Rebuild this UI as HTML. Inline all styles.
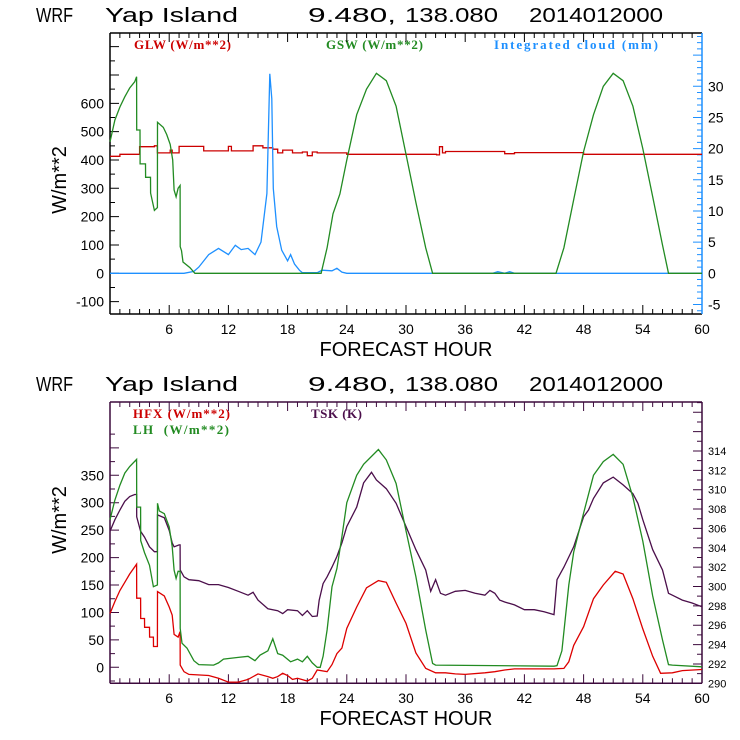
<!DOCTYPE html>
<html><head><meta charset="utf-8"><style>
html,body{margin:0;padding:0;background:#fff;}
svg{display:block;font-family:"Liberation Sans",sans-serif;}
.t{font-size:20px;fill:#000;}
.lg{font-family:"Liberation Serif",serif;font-size:13px;font-weight:bold;}
</style></head><body>
<svg id="s" width="740" height="740" viewBox="0 0 740 740" xmlns="http://www.w3.org/2000/svg">
<g>
<text class="t" x="36" y="22" textLength="37" lengthAdjust="spacingAndGlyphs">WRF</text>
<text class="t" x="105" y="22" textLength="133" lengthAdjust="spacingAndGlyphs">Yap Island</text>
<text class="t" x="308" y="22" textLength="88" lengthAdjust="spacingAndGlyphs">9.480,</text>
<text class="t" x="405" y="22" textLength="93" lengthAdjust="spacingAndGlyphs">138.080</text>
<text class="t" x="529" y="22" textLength="134" lengthAdjust="spacingAndGlyphs">2014012000</text>
</g>
<g>
<text class="t" x="36" y="391" textLength="37" lengthAdjust="spacingAndGlyphs">WRF</text>
<text class="t" x="105" y="391" textLength="133" lengthAdjust="spacingAndGlyphs">Yap Island</text>
<text class="t" x="308" y="391" textLength="88" lengthAdjust="spacingAndGlyphs">9.480,</text>
<text class="t" x="405" y="391" textLength="93" lengthAdjust="spacingAndGlyphs">138.080</text>
<text class="t" x="529" y="391" textLength="134" lengthAdjust="spacingAndGlyphs">2014012000</text>
</g>
<text class="lg" x="134" y="49" fill="#cc0000" textLength="97">GLW (W/m**2)</text>
<text class="lg" x="326" y="49" fill="#228b22" textLength="97">GSW (W/m**2)</text>
<text class="lg" x="494" y="49" fill="#1e90ff" textLength="164">Integrated cloud (mm)</text>
<text class="lg" x="133" y="418" fill="#cc0000" textLength="97">HFX (W/m**2)</text>
<text class="lg" x="133" y="434" fill="#228b22" textLength="96" xml:space="preserve">LH  (W/m**2)</text>
<text class="lg" x="311" y="418" fill="#4b0f4b" textLength="51">TSK (K)</text>
<text class="t" transform="translate(66,180) rotate(-90)" text-anchor="middle">W/m**2</text>
<text class="t" transform="translate(66,520) rotate(-90)" text-anchor="middle">W/m**2</text>
<text class="t" x="406" y="356" text-anchor="middle">FORECAST HOUR</text>
<text class="t" x="406" y="725" text-anchor="middle">FORECAST HOUR</text>
</svg>
<script>
// ---- top panel data ----
const gswHours=[0,0.5,1,1.5,2,2.5,2.7,2.71,3.04,3.05,3.6,3.61,4.1,4.11,4.5,4.8,4.81,5.4,5.75,6.1,6.35,6.5,6.7,6.9,7.1,7.11,7.25,7.4,8.1,8.6,21.4,22,22.6,23.3,24,25,26,27,28,29,30,31,32,32.7,45.2,46,47,48,49,50,51,52,53,54,55,56,56.6,60];
const gswValues=[464,541,587,623,654,676,694,506,506,386,386,339,339,283,222,232,533,515,490,455,400,294,270,300,310,94,80,40,20,0,0,90,210,280,400,560,650,706,680,590,420,250,90,0,0,90,260,430,560,660,706,680,590,440,270,100,0,0];
const glwHours=[0,1,3,4.5,4.8,6.1,6.3,7,9.5,12,12.3,14.5,15.5,16.5,17,17.5,18.5,19.5,20,20.5,21,24,33.1,33.4,33.7,34,40,41,48,60];
const glwValues=[413,420,447,450,425,435,425,448,432,448,432,450,443,438,425,435,425,428,415,428,425,420,418,447,425,430,422,426,420,420];
const cloudHours=[0,7.5,8.5,9,10,11,12,12.7,13.3,14,14.7,15.3,15.9,16.2,16.4,16.55,16.9,17.4,18,18.3,18.7,19.2,19.5,21,21.5,22.5,23,23.5,24,38.8,39.3,40,40.5,41,60];
const cloudValues=[0,0,0.3,1,3,4,3,4.5,3.8,4,3,5,12.8,32,28,13.6,7.5,3.7,2,3,1.5,0.5,0.1,0.1,0.5,0.4,0.8,0.2,0,0,0.25,0,0.25,0,0];
const topLeftTicks=[-100,0,100,200,300,400,500,600];
const topRightTicks=[-5,0,5,10,15,20,25,30];
const xTicks=[6,12,18,24,30,36,42,48,54,60];
// ---- bottom panel data ----
const lhHours=[0,0.5,1,1.5,2,2.7,2.71,3.1,3.11,3.5,4,4.4,4.8,4.81,5,5.5,6,6.3,6.5,6.7,6.9,7.1,7.11,7.3,7.8,8.5,9,10.5,11,11.5,13,14,14.7,15.2,16,16.5,17,17.5,18.3,19,19.5,20,20.5,21,21.3,21.6,22,22.5,23,23.5,24,25,25.7,27.2,28,29,30,31,32,32.7,33,45,45.3,45.8,46.5,47,48,49,50,51,52,53,54,55,56,56.6,57,60];
const lhValues=[269,305,332,354,366,379,292,292,231,209,186,147,150,299,285,280,256,220,177,162,175,175,71,44,35,12,5,4,8,15,18,20,12,22,30,52,25,22,10,15,10,20,8,0,0,20,68,147,180,238,300,350,370,397,378,335,249,165,68,7,4,2,3,30,150,210,281,350,375,388,370,310,230,130,50,5,4,1];
const hfxHours=[0,0.5,1,1.5,2,2.7,2.71,3.1,3.11,3.5,3.51,4,4.01,4.4,4.41,4.8,4.81,5.5,6,6.3,6.5,6.9,7.1,7.11,7.5,8,10,11,12,13,14,15,16,16.5,17,17.5,18,18.5,19,20,20.5,21,22,22.5,23,23.5,24,25,26,27.2,28,29,30,31,32,33,34,35,36,38,39,40,41,45,46,46.5,47,48,49,50,51.2,52,53,54,55,55.8,57,58,60];
const hfxValues=[98,120,140,155,170,188,126,126,89,89,73,73,55,55,38,38,138,130,110,95,60,55,65,4,-8,-13,-15,-20,-27,-27,-22,-12,-17,-20,-17,-11,-15,-22,-20,-25,-20,-5,-8,5,25,35,71,110,145,158,155,117,80,26,-2,-10,-10,-12,-13,-10,-8,-5,-3,-3,-2,10,40,74,125,150,175,170,125,70,20,-11,-10,-6,-4];
const tskHours=[0,0.5,1,1.5,2,2.5,2.7,2.71,3.1,3.5,4,4.5,4.8,4.81,5.5,6,6.3,6.5,7,7.1,7.11,7.5,8,9,10,11,12,13,14,14.5,15,16,17,17.5,18,19,19.5,20,20.5,21,21.2,21.6,22,22.5,23,23.5,24,25,25.7,26.5,27,28,29,30,31,32,32.5,33,33.5,34,35,36,37,38,38.5,39,39.5,40,41,42,43,44,45,45.3,46,47,48,48.5,49,50,51,52,53,53.5,54,55,56,56.6,57,58,59,60];
const tskValues=[305.7,306.9,307.9,308.8,309.3,309.5,309.5,307.2,305.7,305.1,304.1,303.6,303.6,307.4,307.1,305.8,304.5,304.1,304.3,304.3,301.7,301,300.7,300.6,300.2,300.2,299.9,299.5,299.1,299.4,298.6,297.7,297.5,297.2,297.6,297.5,297.0,297.5,296.9,296.95,298.6,300.3,301.0,302.0,303.1,304.5,306.2,308.2,310.7,311.8,311.0,310.1,308.6,306.2,303.8,301.7,299.5,300.7,299.3,299.1,299.5,299.6,299.3,299.1,299.6,299.3,298.6,298.4,298.1,297.6,297.6,297.4,297.1,300.7,302,304.1,307.2,307.9,309.1,310.7,311.3,310.5,309.6,308.6,306.9,303.8,301.7,299.3,299.1,298.6,298.3,297.9];
const botLeftTicks=[0,50,100,150,200,250,300,350];
const botRightTicks=[290,292,294,296,298,300,302,304,306,308,310,312,314];

const NS='http://www.w3.org/2000/svg';
const svg=document.getElementById('s');
function mk(tag,attrs,parent){const e=document.createElementNS(NS,tag);for(const k in attrs)e.setAttribute(k,attrs[k]);(parent||svg).appendChild(e);return e;}
const X0=110,X1=702;
const xS=h=>X0+(X1-X0)*h/60;
const tT=33,tB=314;
const tyL=v=>273.3-v*0.2833;
const tyR=v=>273.3-v*6.233;
const bT=402,bB=683.3;
const byL=v=>667.3-v*0.5486;
const byR=v=>683.3-(v-290)*9.68;

function line(hours,vals,xf,yf,color,name,step){
  let d='';
  for(let i=0;i<hours.length;i++){
    const x=xf(hours[i]).toFixed(1),y=yf(vals[i]).toFixed(1);
    if(i===0)d+='M'+x+','+y;
    else if(step)d+='H'+x+'V'+y;
    else d+='L'+x+','+y;
  }
  const p=mk('path',{d:d,fill:'none',stroke:color,'stroke-width':1.3});
  
  
}
function frame(top,bot,color,rcolor,name){
  const g=mk('g',{});
  
  
  mk('path',{d:`M${X0},${top}H${X1}M${X0},${bot}H${X1}M${X0},${top}V${bot}`,stroke:color,'stroke-width':1.5,fill:'none'},g);
  mk('path',{d:`M${X1},${top}V${bot}`,stroke:rcolor,'stroke-width':1.5,fill:'none'},g);
  let d='';
  for(let h=1;h<60;h++){const x=xS(h);const L=(h%6===0)?9:5;d+=`M${x},${bot}v${-L}M${x},${top}v${L}`;}
  mk('path',{d:d,stroke:color,'stroke-width':1},g);
  return g;
}
const gt=frame(tT,tB,'#000','#1e90ff','top-plot-frame');
{let d='';for(let v=-100;v<=850;v+=50){const y=tyL(v);if(y<tT||y>tB)continue;d+=`M${X0},${y}h${v%100===0?9:5}`;}
mk('path',{d:d,stroke:'#000','stroke-width':1},gt);
d='';for(let v=-6;v<=38;v++){const y=tyR(v);if(y<tT||y>tB)continue;d+=`M${X1},${y}h${v%5===0?-9:-5}`;}
mk('path',{d:d,stroke:'#1e90ff','stroke-width':1},gt);}
const gb=frame(bT,bB,'#3c0a3c','#3c0a3c','bottom-plot-frame');
{let d='';for(let v=-25;v<=425;v+=25){const y=byL(v);if(y<bT||y>bB)continue;d+=`M${X0},${y}h${v%50===0?9:5}`;}
mk('path',{d:d,stroke:'#3c0a3c','stroke-width':1},gb);
d='';for(let v=290;v<=319;v++){const y=byR(v);if(y<bT||y>bB)continue;d+=`M${X1},${y}h${v%2===0?-9:-5}`;}
mk('path',{d:d,stroke:'#3c0a3c','stroke-width':1},gb);}
function lab(x,y,t,anchor,size,name){const e=mk('text',{x:x,y:y,'text-anchor':anchor,'font-size':size});e.textContent=t;}
topLeftTicks.forEach(v=>lab(104,tyL(v)+5,v,'end',14,'top-left-tick-label'));
topRightTicks.forEach(v=>lab(708,tyR(v)+5,v,'start',14,'top-right-tick-label'));
xTicks.forEach(h=>{lab(xS(h),334,h,'middle',14,'top-x-tick-label');lab(xS(h),703,h,'middle',14,'bottom-x-tick-label');});
botLeftTicks.forEach(v=>lab(104,byL(v)+5,v,'end',14,'bottom-left-tick-label'));
botRightTicks.forEach(v=>lab(708,byR(v)+4,v,'start',11,'bottom-right-tick-label'));
line(glwHours,glwValues,xS,tyL,'#cc0000','glw-line',true);
line(cloudHours,cloudValues,xS,tyR,'#1e90ff','cloud-line',false);
line(gswHours,gswValues,xS,tyL,'#228b22','gsw-line',false);
line(tskHours,tskValues,xS,byR,'#4b0f4b','tsk-line',false);
line(hfxHours,hfxValues,xS,byL,'#dd0000','hfx-line',false);
line(lhHours,lhValues,xS,byL,'#228b22','lh-line',false);
</script>
</body></html>
